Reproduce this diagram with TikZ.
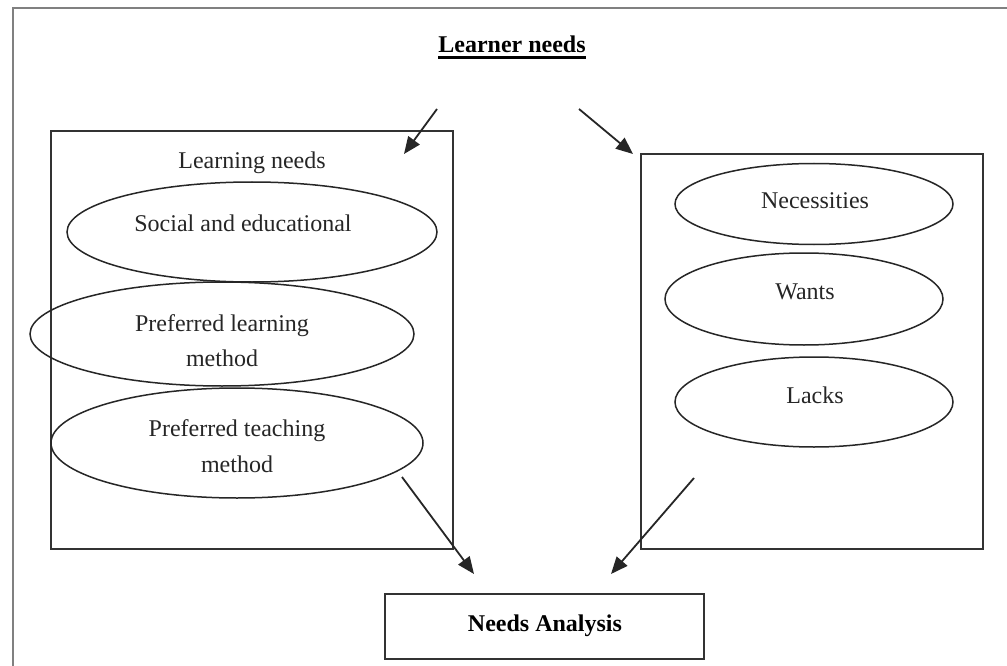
\documentclass[tikz,border=0pt]{standalone}
\usepackage{fontspec}
\setmainfont{Liberation Serif}
\usetikzlibrary{shapes.geometric,arrows.meta}
\tikzset{
  frameline/.style={draw=black!50, line width=2pt},
  boxline/.style={draw=black!80, line width=2pt},
  oval/.style={ellipse, draw=black!85, line width=1.5pt, inner sep=0pt},
  txt/.style={inner sep=0pt, anchor=base, align=center, text=black!85},
  conn/.style={draw=black!85, line width=1.8pt, -{Triangle[length=17pt,width=14pt]}},
}
\begin{document}
\begin{tikzpicture}[x=1pt,y=-1pt,font=\fontsize{24}{35.5}\selectfont]
\useasboundingbox (0,0) rectangle (1007,666);
\fill[white] (0,0) rectangle (1007,666);
% outer (cropped) frame
\draw[frameline] (12.5,666) -- (12.5,8.5) -- (1007,8.5);

% title
\node[txt, font=\fontsize{24}{35.5}\selectfont\bfseries, text=black] (title) at (512,53) {Learner needs};
\draw[line width=2.2pt] ([yshift=-4.5pt]title.base west) -- ([yshift=-4.5pt]title.base east);

% left box
\node[boxline, rectangle, minimum width=402pt, minimum height=417pt, inner sep=0pt] (lbox) at (252,340) {};
\node[txt] (lneeds) at (252,168) {Learning needs};
\node[oval, minimum width=370pt, minimum height=100pt] (e1) at (252,232) {};
\node[txt] (t1) at (243,231) {Social and educational};
\node[oval, minimum width=384pt, minimum height=104pt] (e2) at (222,334) {};
\node[txt] (t2) at (222,331) {Preferred learning};
\node[txt] (t2b) at (222,366) {method};
\node[oval, minimum width=372pt, minimum height=110pt] (e3) at (237,443) {};
\node[txt] (t3) at (237,436) {Preferred teaching};
\node[txt] (t3b) at (237,472) {method};

% right box
\node[boxline, rectangle, minimum width=342pt, minimum height=395pt, inner sep=0pt] (rbox) at (812,351.5) {};
\node[oval, minimum width=278pt, minimum height=81pt] (en) at (814,204) {};
\node[txt] (tn) at (815,208) {Necessities};
\node[oval, minimum width=278pt, minimum height=92pt] (ew) at (804,299) {};
\node[txt] (tw) at (805,299) {Wants};
\node[oval, minimum width=278pt, minimum height=90pt] (el) at (814,402) {};
\node[txt] (tl) at (815,403) {Lacks};

% needs analysis
\node[boxline, rectangle, minimum width=319pt, minimum height=65pt, inner sep=0pt] (na) at (544.5,626.5) {};
\node[txt, font=\fontsize{24}{35.5}\selectfont\bfseries, text=black] (tna) at (545,631) {Needs Analysis};

% arrow end points
\coordinate (a1s) at (437,109);
\coordinate (a1e) at (404,154);
\coordinate (a2s) at (579,109);
\coordinate (a2e) at (633,154);
\coordinate (a3s) at (402,477);
\coordinate (a3e) at (474,574);
\coordinate (a4s) at (694,478);
\coordinate (a4e) at (611,574);
\draw[conn] (a1s) -- (a1e);
\draw[conn] (a2s) -- (a2e);
\draw[conn] (a3s) -- (a3e);
\draw[conn] (a4s) -- (a4e);
\end{tikzpicture}
\end{document}
